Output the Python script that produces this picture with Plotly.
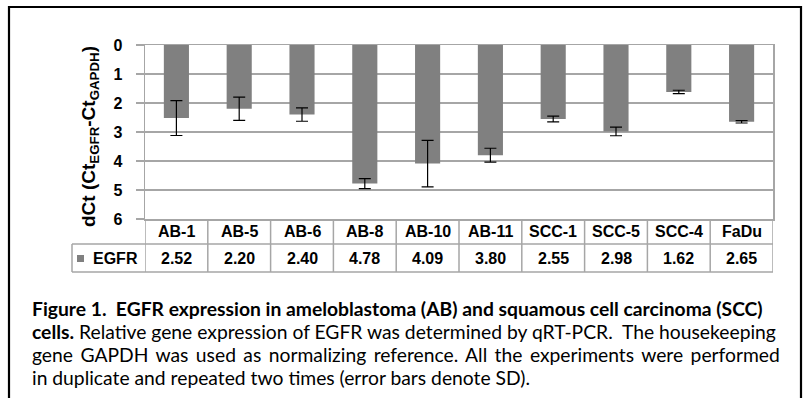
import plotly.graph_objects as go

categories = ["AB-1", "AB-5", "AB-6", "AB-8", "AB-10", "AB-11", "SCC-1", "SCC-5", "SCC-4", "FaDu"]
egfr_dct = [2.52, 2.20, 2.40, 4.78, 4.09, 3.80, 2.55, 2.98, 1.62, 2.65]
egfr_sd = [0.60, 0.40, 0.23, 0.17, 0.80, 0.24, 0.10, 0.15, 0.06, 0.04]
y_ticks = [0, 1, 2, 3, 4, 5, 6]
series_name = "EGFR"

caption_lines = [
    "<b>Figure 1.  EGFR expression in ameloblastoma (AB) and squamous cell carcinoma (SCC)</b>",
    "<b>cells.</b> Relative gene expression of EGFR was determined by qRT-PCR.  The housekeeping",
    "<span style=\"word-spacing:2.5px\">gene GAPDH was used as normalizing reference. All the experiments were performed</span>",
    "in duplicate and repeated two times (error bars denote SD).",
]

W, H = 804, 398
L, R, T, B = 145, 31, 45, 179
PW, PH = W - L - R, H - T - B
GRID = "#a6a6a6"
AR = "Liberation Sans, Arial, sans-serif"
CAP = "Lato, Carlito, Calibri, sans-serif"
FS = 16

def px(xp):
    return (xp - L) / PW

def py(yp):
    return (H - B - yp) / PH

fig = go.Figure()
fig.add_trace(go.Bar(
    x=list(range(len(categories))), y=egfr_dct, width=0.4,
    marker=dict(color="#808080", line=dict(width=0)),
    error_y=dict(type="data", array=egfr_sd, visible=True, color="black", thickness=1.2, width=6),
    name=series_name, showlegend=False, hoverinfo="skip",
))

shapes = []
# outer figure border
shapes.append(dict(type="rect", xref="paper", yref="paper", x0=px(9), x1=px(801), y0=py(420), y1=py(7),
                   line=dict(color="black", width=2.2), layer="above"))
# table vertical lines at category boundaries
n = len(categories)
for i in range(n + 1):
    shapes.append(dict(type="line", xref="x", yref="paper", x0=i - 0.5, x1=i - 0.5, y0=0, y1=py(272),
                       line=dict(color=GRID, width=1.5)))
# table horizontal lines
for yy in (244, 272):
    shapes.append(dict(type="line", xref="paper", yref="paper", x0=px(72), x1=1, y0=py(yy), y1=py(yy),
                       line=dict(color=GRID, width=1.5)))
shapes.append(dict(type="line", xref="paper", yref="paper", x0=px(72), x1=px(72), y0=py(244), y1=py(272),
                   line=dict(color=GRID, width=1.5)))
# legend key square
shapes.append(dict(type="rect", xref="paper", yref="paper", x0=px(77), x1=px(84), y0=py(262), y1=py(255),
                   fillcolor="#808080", line=dict(width=0)))

annotations = []
for i, (c, v) in enumerate(zip(categories, egfr_dct)):
    annotations.append(dict(x=i, y=py(231.5), xref="x", yref="paper", xanchor="center", yanchor="middle",
                            text=f"<b>{c}</b>", showarrow=False,
                            font=dict(family=AR, size=FS, color="black")))
    annotations.append(dict(x=i, y=py(258), xref="x", yref="paper", xanchor="center", yanchor="middle",
                            text=f"<b>{v:.2f}</b>", showarrow=False,
                            font=dict(family=AR, size=FS, color="black")))
annotations.append(dict(x=px(115), y=py(258), xref="paper", yref="paper", xanchor="center", yanchor="middle",
                        text=f"<b>{series_name}</b>",
                        showarrow=False, font=dict(family=AR, size=FS, color="black")))
# y-axis title
annotations.append(dict(x=px(90), y=py(137), xref="paper", yref="paper", xanchor="center", yanchor="middle",
                        textangle=-90, showarrow=False,
                        text="<b>dCt (Ct<sub>EGFR</sub>-Ct<sub>GAPDH</sub>)</b>",
                        font=dict(family=AR, size=19, color="black")))
# caption
for k, line in enumerate(caption_lines):
    annotations.append(dict(x=px(30), y=py(308 + 23 * k), xref="paper", yref="paper", xanchor="left",
                            yanchor="middle", text=line, showarrow=False, align="left",
                            font=dict(family=CAP, size=19.3, color="black")))

fig.update_layout(
    width=W, height=H, margin=dict(l=L, r=R, t=T, b=B),
    paper_bgcolor="white", plot_bgcolor="white",
    shapes=shapes, annotations=annotations, showlegend=False, hovermode=False,
    xaxis=dict(range=[-0.5, n - 0.5], showticklabels=False, ticks="", showgrid=False, zeroline=False,
               showline=True, mirror=True, linecolor=GRID, linewidth=1.5, fixedrange=True),
    yaxis=dict(range=[6, 0], tickvals=y_ticks, ticktext=[f"<b>{t}</b>" for t in y_ticks],
               tickfont=dict(family=AR, size=FS, color="black"), ticks="outside", ticklen=8,
               tickcolor=GRID, tickwidth=1.5, ticklabelstandoff=10, fixedrange=True,
               showgrid=True, gridcolor=GRID, gridwidth=1.5, zeroline=False,
               showline=True, mirror=True, linecolor=GRID, linewidth=1.5),
)

fig.write_html("out.html", config={"displayModeBar": False, "staticPlot": True},
               post_script="document.body.style.margin='0';")
